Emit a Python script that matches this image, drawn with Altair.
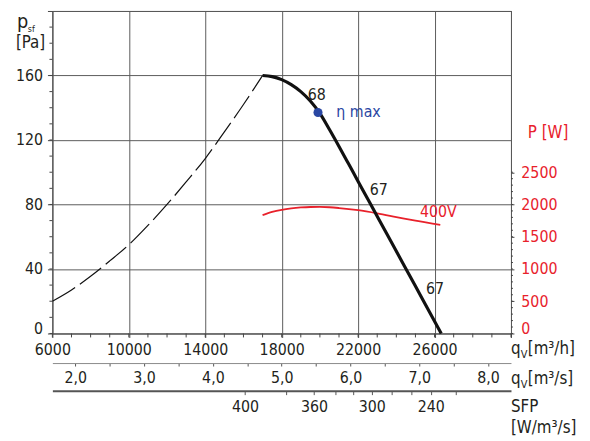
import json
import altair as alt
import pandas as pd

# ---------------- data ----------------
# fan curve (static pressure, Pa) vs airflow (m3/h)
q_fan = [17000, 17500, 18000, 18500, 19000, 19500, 20000, 20500, 21000, 21500,
         22000, 22620, 23500, 24420, 25400, 26350]
p_fan = [160, 159.3, 157.4, 154.3, 150, 144.2, 136.5, 126.5, 116, 105.2,
         94.3, 80.9, 61.8, 41.9, 20.6, 0]
# system (dashed) curve
q_sys = [6000, 7000, 8000, 9000, 10000, 11000, 12000, 13000, 14000, 15000, 16000, 17000]
p_sys = [20, 27, 35.5, 45, 55, 67, 80, 94, 108.5, 125, 142, 160]
# power curve 400V (W)
q_pow = [17000, 17500, 18000, 18500, 19000, 19500, 20000, 20500, 21000, 22000,
         23000, 24000, 25000, 26300]
P_pow = [1835, 1885, 1918, 1940, 1954, 1961, 1962, 1957, 1945, 1911,
         1862, 1805, 1748, 1682]
# efficiency maximum point
eta_q = [19900]
eta_p = [137]
# curve annotations
lab_text = ["68", "67", "67"]
lab_q = [19830, 23080, 26020]
lab_p = [148, 89.2, 27.5]

# axes
x_major = [6000, 10000, 14000, 18000, 22000, 26000, 30000]
x_minor = list(range(6000, 30001, 1000))
y_major = [0, 40, 80, 120, 160, 200]
y_minor = list(range(0, 200, 10))
P_major = [0, 500, 1000, 1500, 2000, 2500]
P_minor = list(range(0, 2501, 100))
qs_ticks = [2.0, 2.5, 3.0, 3.5, 4.0, 4.5, 5.0, 5.5, 6.0, 6.5, 7.0, 7.5, 8.0]
sfp_pos = [16080, 18230, 19690, 20810, 21760, 22710, 23740, 24770, 25800, 27100]
sfp_lab = ["400", "", "360", "", "", "300", "", "", "240", ""]

W, H = 465, 327
FONT = "DejaVu Sans Condensed, Roboto, sans-serif"
FS = 16
RED = "#e8212b"
BLUE = "#2a47a3"
INK = "#231f20"
XDOM = [6000, 30000]
YDOM = [0, 200]
PDOM = [0, 5000]


def X(field, axis=None, domain=XDOM):
    return alt.X(field, type="quantitative",
                 scale=alt.Scale(domain=domain, nice=False, zero=False), axis=axis)


def Y(field, axis=None, domain=YDOM):
    return alt.Y(field, type="quantitative",
                 scale=alt.Scale(domain=domain, nice=False, zero=False), axis=axis)


sys_df = pd.DataFrame({"q": q_sys, "p": p_sys})
fan_df = pd.DataFrame({"q": q_fan, "p": p_fan})
pow_df = pd.DataFrame({"q": q_pow, "P": P_pow})
eta_df = pd.DataFrame({"q": eta_q, "p": eta_p})
lab_df = pd.DataFrame({"q": lab_q, "p": lab_p, "t": lab_text})

x_axis = alt.Axis(values=x_major, grid=True, gridColor="#5a5a5a", gridWidth=1,
                  labelExpr="datum.value >= 30000 ? '' : format(datum.value, 'd')",
                  tickSize=4, tickColor="#444", labelPadding=4, domain=False,
                  title=None, labelOverlap=False, labelFlush=False)
y_axis = alt.Axis(values=y_major, grid=True, gridColor="#5a5a5a", gridWidth=1,
                  labelExpr="datum.value >= 200 ? '' : format(datum.value, 'd')",
                  tickSize=5, tickColor="#444", labelPadding=5, domain=False,
                  title=None, labelOverlap=False, labelFlush=True, labelFlushOffset=3)

sys_line = alt.Chart(sys_df).mark_line(
    color="#111", strokeWidth=1.2, strokeDash=[27, 6], interpolate="monotone"
).encode(x=X("q", x_axis), y=Y("p", y_axis), order="q:Q")

fan_line = alt.Chart(fan_df).mark_line(
    color="#111", strokeWidth=3.2, interpolate="monotone"
).encode(x=X("q"), y=Y("p"), order="q:Q")

pow_line = alt.Chart(pow_df).mark_line(
    color=RED, strokeWidth=1.8, interpolate="monotone"
).encode(
    x=X("q"),
    y=Y("P", alt.Axis(orient="right", values=P_major, labelColor=RED, tickColor="#444",
                      labelExpr="format(datum.value, 'd')",
                      tickSize=3, labelPadding=7, domain=False, grid=False, title=None,
                      labelOverlap=False, labelFlush=True, labelFlushOffset=3),
        domain=PDOM),
    order="q:Q")

eta_pt = alt.Chart(eta_df).mark_point(
    filled=True, color=BLUE, size=85, opacity=1
).encode(x=X("q"), y=Y("p"))

labels = alt.Chart(lab_df).mark_text(
    font=FONT, fontSize=FS, color=INK, baseline="middle", align="center"
).encode(x=X("q"), y=Y("p"), text="t:N")

eta_txt = alt.Chart(pd.DataFrame({"q": [20860], "p": [137.4], "t": ["η max"]})).mark_text(
    font=FONT, fontSize=FS, color=BLUE, baseline="middle", align="left"
).encode(x=X("q"), y=Y("p"), text="t:N")

v400_txt = alt.Chart(pd.DataFrame({"q": [26200], "p": [75.6], "t": ["400V"]})).mark_text(
    font=FONT, fontSize=FS, color=RED, baseline="middle", align="center"
).encode(x=X("q"), y=Y("p"), text="t:N")

# minor ticks
xmin = alt.Chart(pd.DataFrame({"q": x_minor})).mark_rule(color="#444", strokeWidth=1).encode(
    x=X("q"), y=alt.value(H), y2=alt.value(H + 4))
ymin = alt.Chart(pd.DataFrame({"p": y_minor})).mark_rule(color="#444", strokeWidth=1).encode(
    y=Y("p"), x=alt.value(-3), x2=alt.value(0))
Pmin = alt.Chart(pd.DataFrame({"P": P_minor})).mark_rule(color="#444", strokeWidth=1).encode(
    y=Y("P", domain=PDOM), x=alt.value(W), x2=alt.value(W + 2))

# secondary airflow axis in m3/s
qs_axis_layer = alt.Chart(pd.DataFrame({"v": qs_ticks})).mark_point(opacity=0).encode(
    x=X("v", alt.Axis(orient="bottom", offset=30, values=qs_ticks,
                      labelExpr="datum.value % 1 == 0 ? replace(format(datum.value, '.1f'), '.', ',') : ''",
                      tickSize=3, tickColor="#555", domainColor="#8a8a8a", domainWidth=1,
                      labelPadding=4, grid=False, title=None, labelOverlap=False),
      domain=[6000 / 3600, 30000 / 3600]))

# SFP axis (non-linear, positioned on airflow)
sfp_expr = f"{json.dumps(sfp_lab)}[indexof({json.dumps(sfp_pos)}, datum.value)]"
sfp_axis_layer = alt.Chart(pd.DataFrame({"q": sfp_pos})).mark_point(opacity=0).encode(
    x=X("q", alt.Axis(orient="bottom", offset=58, values=sfp_pos, labelExpr=sfp_expr,
                      tickSize=4, tickColor="#555", domainColor="#555", domainWidth=2,
                      labelPadding=4, grid=False, title=None, labelOverlap=False)))

one = pd.DataFrame({"a": [0]})


def txt(s, x, y, size=17, color=INK, font=FONT):
    return alt.Chart(one).mark_text(text=s, x=x, y=y, fontSize=size, color=color, font=font,
                                    align="left", baseline="alphabetic")


titles = [
    txt("p", -36, 17, 20),
    txt("sf", -25, 21, 9),
    txt("[Pa]", -37, 38, 17),
    txt("P [W]", 482, 129, 17, RED),
    txt("q", 465, 348, 17),
    txt("V", 475, 352, 11),
    txt("[m³/h]", 482, 348, 17),
    txt("q", 465, 378, 17),
    txt("V", 475, 382, 11),
    txt("[m³/s]", 482, 378, 17),
    txt("SFP", 465, 407, 17),
    txt("[W/m³/s]", 465, 428, 17),
]

chart = alt.layer(
    sys_line, pow_line, fan_line, eta_pt, labels, eta_txt, v400_txt,
    xmin, ymin, Pmin, qs_axis_layer, sfp_axis_layer, *titles
).resolve_scale(
    x="independent", y="independent"
).properties(
    width=W, height=H,
    padding={"left": 45, "top": 0, "right": 72, "bottom": 106},
    autosize=alt.AutoSizeParams(type="none"),
).configure_view(
    stroke="#222", strokeWidth=1
).configure_axis(
    labelFont=FONT, labelFontSize=FS, labelColor=INK
)

chart.save("out.html", embed_options={"renderer": "svg", "actions": False})
